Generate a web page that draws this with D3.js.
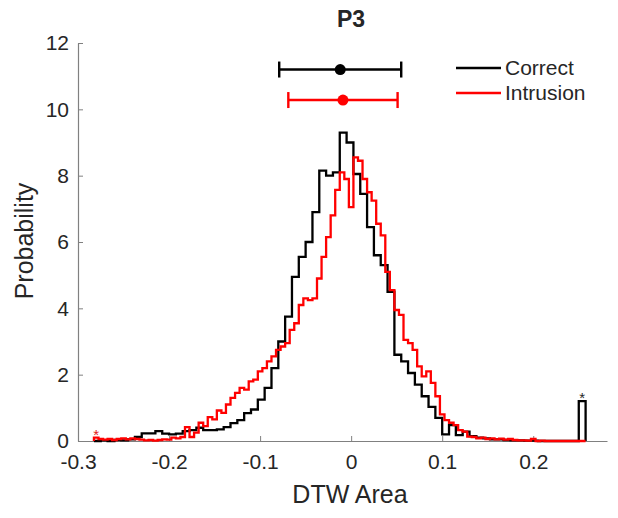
<!DOCTYPE html>
<html>
<head>
<meta charset="utf-8">
<script src="https://cdn.jsdelivr.net/npm/d3@7"></script>
<style>
  html, body { margin: 0; padding: 0; background: #fff; }
  svg { display: block; }
  text { font-family: "Liberation Sans", Arial, sans-serif; fill: #262626; }
</style>
</head>
<body>
<svg id="chart" width="618" height="518"></svg>
<script>
// ---------------- data ----------------
const title = "P3";
const xLabel = "DTW Area";
const yLabel = "Probability";
const seriesNames = ["Correct", "Intrusion"];
const seriesColors = ["#000000", "#ff0000"];

const xTicks = [-0.3, -0.2, -0.1, 0, 0.1, 0.2];
const xTickLabels = ["-0.3", "-0.2", "-0.1", "0", "0.1", "0.2"];
const yTicks = [0, 2, 4, 6, 8, 10, 12];
const xDomain = [-0.3, 0.281];
const yDomain = [0, 12];

// histogram bins (start of first bin and width)
const binStart = -0.2825;
const correctBinWidth = 0.0075;
const intrusionBinWidth = 0.005;

// probability density per bin (Correct)
const correctValues = [
  0.00, 0.02, 0.00, 0.03, 0.02, 0.05, 0.12, 0.23, 0.23, 0.30,
  0.22, 0.20, 0.22, 0.30, 0.33, 0.40, 0.33, 0.33, 0.35, 0.42,
  0.54, 0.63, 0.84, 0.95, 1.25, 1.60, 2.20, 3.00, 3.75, 4.95,
  5.55, 6.00, 6.90, 8.15, 8.00, 8.10, 9.30, 9.00, 8.05, 7.45,
  6.45, 5.60, 5.30, 4.50, 2.60, 2.40, 2.05, 1.70, 1.35, 1.03,
  0.70, 0.20, 0.48, 0.18, 0.28, 0.15, 0.10, 0.08, 0.05, 0.05,
  0.03, 0.02, 0.02, 0.01, 0.01, 0.00, 0.00, 0.00, 0.00, 0.00,
  0.00, 1.20
];

// probability density per bin (Intrusion)
const intrusionValues = [
  0.10, 0.06, 0.04, 0.06, 0.03, 0.06, 0.08, 0.05, 0.08, 0.06,
  0.04, 0.02, 0.03, 0.01, 0.03, 0.05, 0.04, 0.10, 0.08, 0.12,
  0.42, 0.12, 0.25, 0.55, 0.45, 0.72, 0.65, 0.92, 0.85, 1.10,
  1.30, 1.45, 1.60, 1.55, 1.80, 1.85, 2.10, 2.20, 2.40, 2.55,
  2.75, 2.85, 2.95, 3.35, 3.55, 4.10, 4.30, 4.25, 4.30, 4.90,
  5.55, 6.15, 6.80, 7.57, 8.10, 7.90, 7.05, 8.55, 8.45, 7.90,
  7.50, 7.25, 6.55, 6.20, 5.10, 4.55, 3.95, 3.80, 3.05, 2.95,
  2.75, 2.25, 1.95, 2.10, 1.75, 1.35, 0.80, 0.63, 0.55, 0.48,
  0.33, 0.28, 0.13, 0.12, 0.08, 0.10, 0.06, 0.08, 0.05, 0.07,
  0.04, 0.06, 0.03, 0.02, 0.02, 0.01, 0.06, 0.00, 0.01, 0.00,
  0.00, 0.00, 0.00, 0.00, 0.00, 0.00, 0.00, 0.00
];

// mean and interval shown above the histograms
const intervalMeans = [-0.012, -0.009];
const intervalLow = [-0.079, -0.069];
const intervalHigh = [0.055, 0.051];
const intervalLevels = [11.2, 10.28];

// outlier markers: [series index, bin index]
const outlierMarks = [[0, 71], [1, 0]];

// ---------------- drawing ----------------
const svg = d3.select("#chart");
const x = d3.scaleLinear().domain(xDomain).range([78, 607]);
const y = d3.scaleLinear().domain(yDomain).range([441, 43]);

// axes
const xAxis = d3.axisBottom(x).tickValues(xTicks)
  .tickFormat((d, i) => xTickLabels[i]).tickSizeInner(-5).tickSizeOuter(0).tickPadding(13);
const yAxis = d3.axisLeft(y).tickValues(yTicks)
  .tickSizeInner(-5).tickSizeOuter(0).tickPadding(9);

const gx = svg.append("g").attr("transform", "translate(0,441)").call(xAxis);
const gy = svg.append("g").attr("transform", "translate(78,0)").call(yAxis);
[gx, gy].forEach(g => {
  g.select(".domain").attr("stroke", "#808080").attr("stroke-width", 1.2);
  g.selectAll(".tick line").attr("stroke", "#808080").attr("stroke-width", 1);
  g.selectAll(".tick text").attr("fill", "#262626")
    .style("font-size", "21px").style("font-family", "'Liberation Sans', Arial, sans-serif");
});

// histograms as stairs outlines
function stairs(values, width) {
  const pts = [[binStart, 0]];
  values.forEach((v, i) => {
    pts.push([binStart + i * width, v]);
    pts.push([binStart + (i + 1) * width, v]);
  });
  pts.push([binStart + values.length * width, 0]);
  return pts;
}
const line = d3.line().x(d => x(d[0])).y(d => y(d[1]));
const hists = [[correctValues, correctBinWidth], [intrusionValues, intrusionBinWidth]];
hists.forEach(([vals, w], k) => {
  svg.append("path")
    .attr("d", line(stairs(vals, w)))
    .attr("fill", "none")
    .attr("stroke", seriesColors[k])
    .attr("stroke-width", 2.3)
    .attr("stroke-linejoin", "miter");
});

// outlier asterisks
outlierMarks.forEach(([k, b]) => {
  const [vals, w] = hists[k];
  svg.append("text")
    .attr("x", x(binStart + (b + 0.5) * w))
    .attr("y", y(vals[b]) + 2)
    .attr("text-anchor", "middle")
    .style("font-size", "15px")
    .style("fill", k === 0 ? "#262626" : "#e02020")
    .text("*");
});

// interval bars
intervalMeans.forEach((m, k) => {
  const g = svg.append("g").attr("stroke", seriesColors[k]).attr("stroke-width", 2.4);
  const yy = y(intervalLevels[k]);
  g.append("line").attr("x1", x(intervalLow[k])).attr("x2", x(intervalHigh[k]))
    .attr("y1", yy).attr("y2", yy);
  [intervalLow[k], intervalHigh[k]].forEach(v => {
    g.append("line").attr("x1", x(v)).attr("x2", x(v)).attr("y1", yy - 8).attr("y2", yy + 8);
  });
  svg.append("circle").attr("cx", x(m)).attr("cy", yy).attr("r", 5.5)
    .attr("fill", seriesColors[k]);
});

// legend
seriesNames.forEach((name, k) => {
  const ly = 68 + k * 25;
  svg.append("line").attr("x1", 456).attr("x2", 501).attr("y1", ly).attr("y2", ly)
    .attr("stroke", seriesColors[k]).attr("stroke-width", 2.4);
  svg.append("text").attr("x", 505).attr("y", ly).attr("dy", "0.35em")
    .style("font-size", "21px").text(name);
});

// title and axis labels
svg.append("text").attr("x", 351).attr("y", 27).attr("text-anchor", "middle")
  .style("font-size", "23px").style("font-weight", "bold").text(title);
svg.append("text").attr("x", 350).attr("y", 503).attr("text-anchor", "middle")
  .style("font-size", "25px").text(xLabel);
svg.append("text").attr("transform", "translate(33,241) rotate(-90)")
  .attr("text-anchor", "middle").style("font-size", "25px").text(yLabel);
</script>
</body>
</html>
